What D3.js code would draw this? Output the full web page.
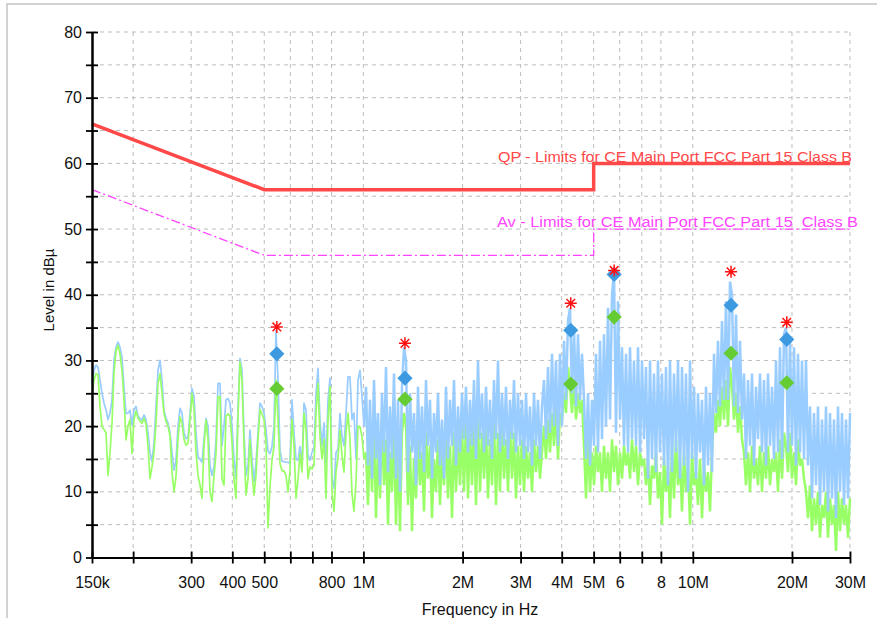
<!DOCTYPE html>
<html>
<head>
<meta charset="utf-8">
<script src="https://cdn.jsdelivr.net/npm/d3@7"></script>
<style>
  body { margin: 0; background: #fff; }
  text { font-family: "Liberation Sans", Arial, sans-serif; }
</style>
</head>
<body>
<svg id="chart" width="877" height="618"></svg>
<script>
// sweep: log spaced points from 150 kHz to 30 MHz
const sweepStartMHz = 0.15;
const sweepStopMHz = 30;
const denseFromIndex = 136; // from ~1 MHz the sweep gets very dense

// peak detector trace (dBµV), one value per sweep point
const peakTrace = [
  26.5,28.5,29.3,29,27,25,23.5,22.5,21,22,
  24,30,32,32.8,32,30.5,26,21.9,22,22.4,
  20.2,22.5,23,21.5,21.2,20.9,21.7,21,19,16,
  14.6,17.5,23,28.5,30,27,22.4,21.2,20.5,19,
  16,13.3,14.8,20,22.7,22,19,18.1,18.3,22,
  25.7,24.5,19,15.3,15,14.5,18,21.2,20,14,
  12.5,13.8,17.9,26.5,26.5,17,20,24,24.2,23.5,
  20,15,12,23,30.3,28.5,19,12.5,14,19.4,
  15,11.5,14.5,19,23.5,23,22,19.5,16.2,15.8,
  16.9,20,34.5,27,16.3,14.7,14.6,14.5,14.5,14.3,
  24,19,15,14.8,16.9,14,23.5,22.5,15.5,14.8,
  16,16.5,25,28.8,20.9,17,20.5,14,24,27.3,
  12,10.5,16,16.5,21.9,18.5,17,22,27.5,27.5,
  21,22,15,27,28.5,24.5,20,
  // 1 MHz upwards
  26,14,24,12,27,15,22,11,25,16,
  29,13,23,15,28,12,24,10,26,32,
  30,13,25,16,22,11,26,15,23,13,
  27,17,24,12,22,16,25,14,21,12,
  26,15,24,17,27,14,23,16,25,18,
  26,16,24,17,27,15,30,18,25,16,
  26,17,24,15,27,18,30,16,25,17,
  26,15,24,18,27,16,25,17,24,15,
  25,16,23,14,25,17,24,15,23,27,
  18,29,19,31,20,30,17,31,20,33,
  24,36,38,25,35,23,34,24,31,24,
  15,25,14,24,17,31,16,33,18,34,
  20,38,21,40,43.5,19,39,21,32,17,
  31,16,32,18,30,17,32,16,30,18,
  29,12,30,15,28,13,30,16,28,14,
  29,11,30,13,28,16,30,12,29,14,
  28,10,30,15,26,12,25,16,24,11,
  26,14,25,13,31,22,33,23,36,24,
  39,24,42,40,23,37,22,33,21,28,
  15,27,17,28,14,26,18,28,16,27,
  14,28,17,26,15,30,16,32,15,34,
  35,16,33,17,32,14,31,16,30,15,
  30,14,23,9,22,11,23,8,21,10,
  23,7,22,9,21,6,23,10,22,8,
  21,9,22
];

// average detector trace (dBµV), same sweep points
const avgTrace = [
  24.7,27,28,27.8,23,19.9,19.5,19,12.5,16,
  20.5,28,31.5,32.3,31,28.5,24,17.9,20,21,
  15.8,21,22.3,21.2,20.8,20.4,21.2,20.3,17,12,
  13.8,16,20.5,26.5,28,25,21.9,20.7,20,18.5,
  13,10,12.3,18,21.4,20.5,18,17.1,17.4,21,
  25,22.5,16,12.5,11,9,17,20.9,18,10,
  8.5,12.5,15.8,24.5,24.5,12,11,21.5,21.9,21.5,
  17.5,12,9,21.5,29.8,27,17,9.5,12,17.9,
  13,9.5,12.5,18,22.5,21.8,21,17.5,4.5,10.8,
  14.8,17,27,21,14.3,13.2,13.2,12.5,10,13.3,
  21,17,9,12,15.8,13,22,19.5,12,13.8,
  13.5,14,22,26.5,18.4,15,18,9,21,26,
  10,7,13,15.2,19.4,15.5,13,19,22,17.9,
  9.7,7,11.5,20,19.9,18.4,15,
  // 1 MHz upwards
  16,8,19,10,20,6,17,9,21,11,
  18,5,16,10,20,5,17,4,19,22,
  20,8,17,4,15,9,18,11,16,7,
  19,12,17,6,15,10,18,8,16,11,
  20,9,17,6,19,10,18,11,20,10,
  21,9,19,11,20,8,21,10,19,12,
  20,9,18,11,21,8,19,10,20,12,
  18,10,20,12,19,9,17,11,18,10,
  17,12,16,10,18,13,17,12,16,20,
  15,21,16,22,17,23,15,22,21,25,
  22,29,26,22,27,21,25,22,24,17,
  9,18,10,16,11,17,13,16,10,17,
  12,16,10,18,13,17,11,16,12,17,
  14,16,12,18,13,17,11,16,14,15,
  11,15,8,14,12,16,9,13,5,15,
  10,14,6,17,9,18,11,15,7,16,
  10,14,5,16,11,13,8,15,6,14,
  10,13,7,16,22,19,24,20,26,21,
  27,20,29,26,21,25,19,23,18,16,
  11,16,10,17,12,15,11,17,10,16,
  12,17,11,15,13,16,10,18,12,19,
  17,13,19,12,16,11,18,14,15,12,
  10,6,11,4,9,5,10,3,8,6,
  10,3,9,5,8,1,10,4,9,5,
  8,3,9
];

// limit lines [MHz, dBµV]
const qpLimit = [[0.15, 66], [0.5, 56], [5, 56], [5, 60], [30, 60]];
const avLimit = [[0.15, 56], [0.5, 46], [5, 46], [5, 50], [30, 50]];

// final measurement results [MHz, dBµV]
const peakMarks = [[0.546, 35.1], [1.337, 32.6], [4.26, 38.7], [5.77, 43.7], [13.06, 43.5], [19.28, 35.8]];
const qpResults = [[0.546, 31.0], [1.337, 27.3], [4.26, 34.6], [5.77, 43.1], [13.06, 38.4], [19.28, 33.2]];
const avResults = [[0.546, 25.7], [1.337, 24.1], [4.26, 26.4], [5.77, 36.6], [13.06, 31.1], [19.28, 26.6]];

const xTicks = [0.15, 0.2, 0.3, 0.4, 0.5, 0.6, 0.7, 0.8, 1, 2, 3, 4, 5, 6, 7, 8, 10, 20, 30];
const xTickLabels = ["150k", "", "300", "400", "500", "", "", "800", "1M", "2M", "3M", "4M", "5M", "6", "", "8", "10M", "20M", "30M"];
const yMajor = [0, 10, 20, 30, 40, 50, 60, 70, 80];
const yAll = [0, 5, 10, 15, 20, 25, 30, 35, 40, 45, 50, 55, 60, 65, 70, 75, 80];

const plotLeft = 92, plotRight = 850, plotTop = 32, plotBottom = 557.5;

const svg = d3.select("#chart");

const x = d3.scaleLog().domain([sweepStartMHz, sweepStopMHz]).range([plotLeft, plotRight]);
const y = d3.scaleLinear().domain([0, 80]).range([plotBottom, plotTop]);

// outer frame
svg.append("rect")
  .attr("x", 7).attr("y", 4).attr("width", 900).attr("height", 700)
  .attr("fill", "none").attr("stroke", "#c4c4c4").attr("stroke-width", 1.5);

// grid
const grid = svg.append("g").attr("stroke", "#bdbdbd").attr("stroke-dasharray", "4,4").attr("stroke-width", 1);
grid.selectAll(".hg").data(yAll.filter(d => d > 0)).join("line")
  .attr("x1", plotLeft).attr("x2", plotRight)
  .attr("y1", d => y(d)).attr("y2", d => y(d));
grid.selectAll(".vg").data(xTicks.slice(1)).join("line")
  .attr("x1", d => x(d)).attr("x2", d => x(d))
  .attr("y1", plotTop).attr("y2", plotBottom);

// sweep frequencies
const n = peakTrace.length;
const freqs = peakTrace.map((d, i) => sweepStartMHz * Math.pow(sweepStopMHz / sweepStartMHz, i / (n - 1)));

const line = d3.line().x(d => x(d[0])).y(d => y(d[1]));

function tracePart(values, color, sparse) {
  const pts = values.map((v, i) => [freqs[i], v]);
  const part = sparse ? pts.slice(0, denseFromIndex + 1) : pts.slice(denseFromIndex);
  svg.append("path")
    .datum(part)
    .attr("d", line)
    .attr("fill", "none").attr("stroke", color)
    .attr("stroke-width", sparse ? 1.7 : 2.5)
    .attr("stroke-linejoin", sparse ? "round" : "miter")
    .attr("stroke-miterlimit", 1);
}
// dense part: peak trace covers the average trace; sparse part: average on top
tracePart(avgTrace, "#99ff66", false);
tracePart(peakTrace, "#99ccff", false);
tracePart(peakTrace, "#99ccff", true);
tracePart(avgTrace, "#99ff66", true);

// limits
svg.append("path").datum(qpLimit).attr("d", line)
  .attr("fill", "none").attr("stroke", "#ff4848").attr("stroke-width", 3.5);
svg.append("path").datum(avLimit).attr("d", line)
  .attr("fill", "none").attr("stroke", "#ff44ff").attr("stroke-width", 1.3)
  .attr("stroke-dasharray", "9,3,2,3");

svg.append("text")
  .attr("x", 852).attr("y", 162).attr("text-anchor", "end")
  .attr("font-size", 15.5).attr("fill", "#ff4848")
  .attr("textLength", 354).attr("lengthAdjust", "spacingAndGlyphs")
  .text("QP - Limits for CE Main Port FCC Part 15 Class B");
svg.append("text")
  .attr("x", 858).attr("y", 227).attr("text-anchor", "end")
  .attr("font-size", 15.5).attr("fill", "#ff44ff")
  .attr("textLength", 361).attr("lengthAdjust", "spacingAndGlyphs")
  .style("white-space", "pre")
  .text("Av - Limits for CE Main Port FCC Part 15  Class B");

// axes
const axisG = svg.append("g");
axisG.append("g").attr("transform", `translate(${plotLeft},0)`)
  .call(d3.axisLeft(y).tickValues(yAll).tickSize(6).tickSizeOuter(0).tickPadding(4)
    .tickFormat(d => yMajor.includes(d) ? d : ""));
axisG.append("g").attr("transform", `translate(${plotLeft},0)`)
  .call(d3.axisRight(y).tickValues(yAll).tickSize(6).tickSizeOuter(0).tickFormat(""));
axisG.append("g").attr("transform", `translate(0,${plotBottom})`)
  .call(d3.axisBottom(x).tickValues(xTicks).tickSize(6).tickSizeOuter(0).tickPadding(13)
    .tickFormat((d, i) => xTickLabels[i]));
axisG.append("g").attr("transform", `translate(0,${plotBottom})`)
  .call(d3.axisTop(x).tickValues(xTicks).tickSize(6).tickSizeOuter(0).tickFormat(""));

axisG.selectAll("path.domain").attr("stroke", "#000").attr("stroke-width", 2);
axisG.selectAll(".tick line").attr("stroke", "#000").attr("stroke-width", 1.8);
axisG.selectAll(".tick text").attr("font-size", 16).attr("fill", "#111")
  .attr("font-family", "'Liberation Sans', Arial, sans-serif");

// axis titles
svg.append("text")
  .attr("transform", "translate(54,290) rotate(-90)")
  .attr("text-anchor", "middle").attr("font-size", 15).attr("fill", "#111")
  .text("Level in dBµ");
svg.append("text")
  .attr("x", 480).attr("y", 615).attr("text-anchor", "middle")
  .attr("font-size", 16).attr("fill", "#111")
  .text("Frequency in Hz");

// markers
const diamond = d3.symbol().type(d3.symbolSquare).size(115);
svg.selectAll(".qp").data(qpResults).join("path")
  .attr("d", diamond)
  .attr("transform", d => `translate(${x(d[0])},${y(d[1])}) rotate(45)`)
  .attr("fill", "#3d9ae0");
svg.selectAll(".av").data(avResults).join("path")
  .attr("d", diamond)
  .attr("transform", d => `translate(${x(d[0])},${y(d[1])}) rotate(45)`)
  .attr("fill", "#66cc33");

const star = "M-6,0L6,0M0,-6L0,6M-4.3,-4.3L4.3,4.3M-4.3,4.3L4.3,-4.3";
svg.selectAll(".pk").data(peakMarks).join("path")
  .attr("d", star)
  .attr("transform", d => `translate(${x(d[0])},${y(d[1])})`)
  .attr("fill", "none").attr("stroke", "#ff1010").attr("stroke-width", 1.5);
</script>
</body>
</html>
